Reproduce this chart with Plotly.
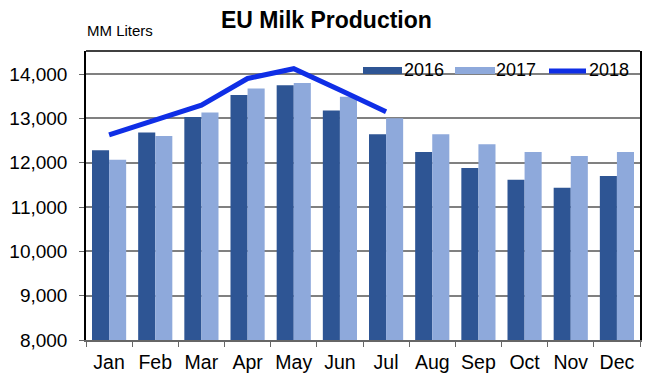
import plotly.graph_objects as go

months = ["Jan", "Feb", "Mar", "Apr", "May", "Jun", "Jul", "Aug", "Sep", "Oct", "Nov", "Dec"]
prod_2016 = [12280, 12680, 13030, 13530, 13750, 13180, 12640, 12240, 11880, 11615, 11435, 11700]
prod_2017 = [12065, 12600, 13130, 13675, 13800, 13490, 13000, 12640, 12415, 12240, 12150, 12240]
prod_2018 = [12630, 12960, 13300, 13900, 14120, 13640, 13150]
y_ticks = [8000, 9000, 10000, 11000, 12000, 13000, 14000]

C16 = "#2E5594"
C17 = "#8EA9DB"
C18 = "#0F2EE6"
FONT = "Liberation Sans, Arial, sans-serif"

# page offset from default body margin
OFF = 8
W, H = 656 - OFF, 382 - OFF
PL, PR, PT, PB = 86, 640, 51, 340  # plot area in window pixels
L, T = PL - OFF, PT - OFF
R = (W + OFF) - PR
B = (H + OFF) - PB
PW, PH = PR - PL, PB - PT


def px(x):
    return (x - PL) / PW


def py(y):
    return (PB - y) / PH


fig = go.Figure()
fig.add_trace(go.Bar(x=months, y=prod_2016, name="2016", marker_color=C16, marker_line_width=0))
fig.add_trace(go.Bar(x=months, y=prod_2017, name="2017", marker_color=C17, marker_line_width=0))
fig.add_trace(go.Scatter(x=months[:len(prod_2018)], y=prod_2018, name="2018", mode="lines",
                         line=dict(color=C18, width=5)))

shapes = [
    dict(type="line", xref="paper", yref="paper", x0=0, x1=1, y0=1, y1=1,
         line=dict(color="black", width=1.5)),
    dict(type="rect", xref="paper", yref="paper", x0=px(363), x1=px(402), y0=py(74), y1=py(67),
         fillcolor=C16, line_width=0),
    dict(type="rect", xref="paper", yref="paper", x0=px(455), x1=px(495), y0=py(74), y1=py(67),
         fillcolor=C17, line_width=0),
    dict(type="line", xref="paper", yref="paper", x0=px(549), x1=px(586), y0=py(71), y1=py(71),
         line=dict(color=C18, width=5)),
]

annotations = [
    dict(text="<b>EU Milk Production</b>", x=px(326), y=py(20), xref="paper", yref="paper",
         showarrow=False, xanchor="center", yanchor="middle", font=dict(size=23, color="black", family=FONT)),
    dict(text="MM Liters", x=px(85), y=py(30), xref="paper", yref="paper",
         showarrow=False, xanchor="left", yanchor="middle", font=dict(size=15, color="black", family=FONT)),
]
for lbl, x0 in [("2016", 404), ("2017", 496), ("2018", 589)]:
    annotations.append(dict(text=lbl, x=px(x0), y=py(70), xref="paper", yref="paper", showarrow=False,
                            xanchor="left", yanchor="middle", xshift=-2,
                            font=dict(size=18, color="black", family=FONT)))

fig.update_layout(
    width=W, height=H,
    margin=dict(l=L, r=R, t=T, b=B),
    paper_bgcolor="white", plot_bgcolor="white",
    barmode="group", bargap=0.26, bargroupgap=0,
    showlegend=False,
    font=dict(family=FONT, size=19, color="black"),
    shapes=shapes, annotations=annotations,
)
fig.update_xaxes(
    showline=True, linecolor="#666666", linewidth=1.5,
    ticks="outside", tickson="boundaries", ticklen=5, tickcolor="#666666",
    ticklabelstandoff=4, tickangle=0, automargin=False,
    showgrid=False, tickfont=dict(size=19.5, family=FONT, color="black"),
)
fig.update_yaxes(
    range=[8000, 14520], tickvals=y_ticks, tickformat=",d",
    showline=True, mirror=True, linecolor="black", linewidth=1.5,
    showgrid=True, gridcolor="#808080", gridwidth=1.5,
    ticks="outside", ticklen=5, tickcolor="#666666",
    ticklabelstandoff=8, automargin=False,
    tickfont=dict(size=19, family=FONT, color="black"), zeroline=False,
)

fig.write_html("out.html")
